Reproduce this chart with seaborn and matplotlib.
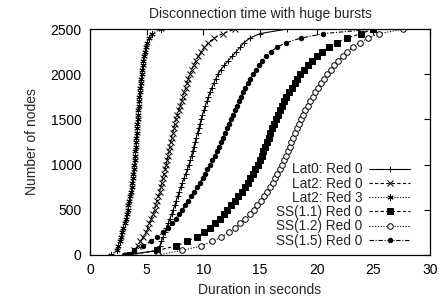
import numpy as np
import pandas as pd
import matplotlib
matplotlib.use("Agg")
import matplotlib.pyplot as plt
import seaborn as sns

sns.set_theme(style="white")
plt.rcParams["font.family"] = ["Liberation Sans", "DejaVu Sans"]

# node counts, every 50 nodes
nodes = list(range(0, 2501, 50))

# disconnection durations (seconds) read at each node count
lat0_red0 = [3.2, 5.95, 6.15, 6.3, 6.45, 6.6, 6.75, 6.9, 7.05, 7.2,
             7.35, 7.48, 7.61, 7.74, 7.87, 8.0, 8.15, 8.3, 8.45, 8.6,
             8.74, 8.85, 8.96, 9.06, 9.16, 9.27, 9.38, 9.49, 9.6, 9.7,
             9.8, 9.92, 10.05, 10.18, 10.31, 10.45, 10.6, 10.75, 10.92, 11.1,
             11.3, 11.55, 11.85, 12.2, 12.55, 12.9, 13.25, 13.6, 14.1, 15.0,
             17.35]
lat2_red0 = [3.3, 3.9, 4.2, 4.45, 4.7, 4.95, 5.1, 5.25, 5.4, 5.55,
             5.7, 5.82, 5.93, 6.04, 6.15, 6.25, 6.35, 6.45, 6.55, 6.65,
             6.75, 6.83, 6.91, 6.99, 7.06, 7.13, 7.2, 7.3, 7.4, 7.5,
             7.6, 7.72, 7.84, 7.96, 8.08, 8.2, 8.32, 8.44, 8.56, 8.68,
             8.8, 8.96, 9.14, 9.34, 9.56, 9.82, 10.1, 10.45, 10.95, 11.7,
             12.8]
lat2_red3 = [1.9, 2.35, 2.5, 2.62, 2.75, 2.85, 2.95, 3.05, 3.14, 3.23,
             3.32, 3.39, 3.46, 3.53, 3.6, 3.67, 3.72, 3.77, 3.82, 3.87,
             3.91, 3.94, 3.97, 4.0, 4.03, 4.06, 4.09, 4.12, 4.15, 4.17,
             4.2, 4.23, 4.26, 4.29, 4.32, 4.35, 4.39, 4.43, 4.47, 4.51,
             4.56, 4.61, 4.66, 4.72, 4.79, 4.86, 4.95, 5.06, 5.22, 5.45,
             6.25]
ss11_red0 = [3.5, 5.9, 7.6, 8.6, 9.4, 10.1, 10.6, 11.05, 11.45, 11.8,
             12.12, 12.45, 12.77, 13.08, 13.38, 13.66, 13.92, 14.16, 14.39, 14.6,
             14.8, 14.98, 15.15, 15.31, 15.47, 15.62, 15.77, 15.92, 16.07, 16.22,
             16.38, 16.55, 16.73, 16.92, 17.12, 17.33, 17.56, 17.8, 18.05, 18.3,
             18.57, 18.87, 19.2, 19.57, 20.0, 20.5, 21.1, 21.8, 22.7, 23.9,
             25.0]
ss12_red0 = [6.0, 8.1, 9.8, 10.8, 11.6, 12.3, 12.82, 13.28, 13.7, 14.08,
             14.43, 14.76, 15.07, 15.36, 15.63, 15.88, 16.11, 16.33, 16.54, 16.74,
             16.93, 17.11, 17.28, 17.45, 17.61, 17.77, 17.93, 18.09, 18.25, 18.42,
             18.6, 18.79, 18.99, 19.2, 19.42, 19.65, 19.89, 20.14, 20.4, 20.67,
             20.95, 21.25, 21.57, 21.92, 22.3, 22.72, 23.2, 23.8, 24.5, 25.5,
             27.65]
ss15_red0 = [3.0, 3.9, 4.7, 5.35, 5.95, 6.45, 6.9, 7.25, 7.55, 7.85,
             8.12, 8.4, 8.68, 8.95, 9.21, 9.46, 9.7, 9.93, 10.15, 10.37,
             10.58, 10.79, 10.99, 11.18, 11.37, 11.55, 11.73, 11.9, 12.07, 12.24,
             12.41, 12.58, 12.76, 12.94, 13.12, 13.31, 13.5, 13.7, 13.91, 14.13,
             14.36, 14.61, 14.89, 15.2, 15.55, 15.95, 16.5, 17.3, 18.6, 20.6,
             25.0]

series = [
    ("Lat0: Red 0", lat0_red0, "-", "+", 5, "black"),
    ("Lat2: Red 0", lat2_red0, (0, (3, 2)), "x", 3.8, "black"),
    ("Lat2: Red 3", lat2_red3, (0, (1, 1.5)), (6, 2, 0), 4.5, "black"),
    ("SS(1.1) Red 0", ss11_red0, (0, (3, 2)), "s", 3.8, "black"),
    ("SS(1.2) Red 0", ss12_red0, (0, (1, 1.5)), "o", 4, "white"),
    ("SS(1.5) Red 0", ss15_red0, (0, (4, 1.5, 1, 1.5)), "o", 3.2, "black"),
]

fig = plt.figure(figsize=(4.41, 3.0), dpi=100)
ax = fig.add_axes([0.204, 0.15, 0.771, 0.753])

for name, xs, ls, mk, ms, fc in series:
    df = pd.DataFrame({"duration": xs, "nodes": nodes})
    sns.lineplot(data=df, x="duration", y="nodes", ax=ax, sort=False,
                 estimator=None, color="black", linestyle=ls, linewidth=0.8,
                 marker=mk, markersize=ms, markerfacecolor=fc,
                 markeredgecolor="black", markeredgewidth=0.7, label=name)

ax.set_xlim(0, 30)
ax.set_ylim(0, 2500)
ax.set_xticks(range(0, 31, 5))
ax.set_yticks(range(0, 2501, 500))
ax.tick_params(direction="in", length=4, width=0.8, top=True, right=True,
               labelsize=10, colors="black", pad=6)
for s in ax.spines.values():
    s.set_color("black")
    s.set_linewidth(0.9)

ax.set_title("Disconnection time with huge bursts", fontsize=10, pad=8)
ax.set_xlabel("Duration in seconds", fontsize=10, labelpad=4)
ax.set_ylabel("Number of nodes", fontsize=10, labelpad=8)

ax.legend(loc="lower right", bbox_to_anchor=(0.97, -0.01), frameon=False,
          markerfirst=False, fontsize=9.8, handlelength=3.0,
          handletextpad=0.5, labelspacing=0.02, borderpad=0.2)

fig.savefig("out.png", dpi=100)
